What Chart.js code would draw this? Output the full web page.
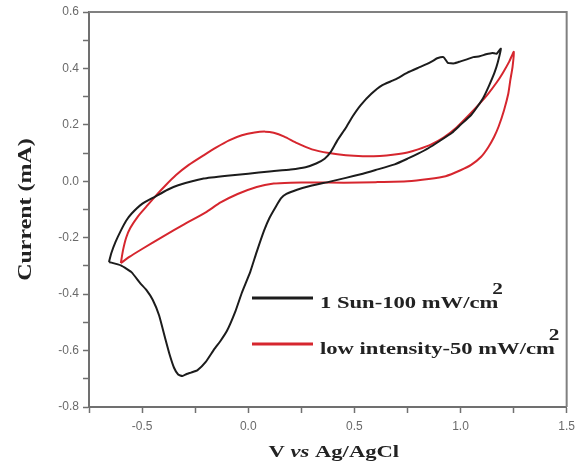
<!DOCTYPE html>
<html><head><meta charset="utf-8">
<script src="https://cdn.jsdelivr.net/npm/chart.js@4.4.0/dist/chart.umd.min.js"></script>
<style>html,body{margin:0;padding:0;background:#fff;}canvas{display:block;}</style>
</head><body>
<canvas id="c" width="581" height="470"></canvas>
<script>
// ---- data (V vs Ag/AgCl, current in mA) ----
const seriesNames = ['1 Sun-100 mW/cm\u00B2', 'low intensity-50 mW/cm\u00B2'];
const seriesColors = ['#1c1c1c', '#d6262e'];

// 1 Sun loop: forward sweep then return sweep
const blackV = [-0.656,-0.645,-0.625,-0.6,-0.575,-0.55,-0.5,-0.44,-0.38,-0.33,
  -0.21,-0.1,0,0.1,0.2,0.27,0.32,0.36,0.39,0.42,
  0.46,0.49,0.53,0.58,0.63,0.69,0.75,0.8,0.84,0.87,
  0.89,0.92,0.94,0.97,1.0,1.03,1.06,1.09,1.12,1.15,
  1.17,1.19,
  1.175,1.16,1.135,1.11,1.08,1.05,1.0,0.96,0.9,0.85,
  0.8,0.75,0.69,0.6,0.54,0.46,0.38,0.3,0.23,0.18,
  0.155,0.13,0.1,0.075,0.04,0.01,-0.03,-0.06,-0.1,-0.13,
  -0.16,-0.2,-0.24,-0.27,-0.29,-0.31,-0.33,-0.35,-0.37,-0.39,
  -0.42,-0.45,-0.48,-0.51,-0.55,-0.6,-0.656];
const blackI = [-0.286,-0.255,-0.215,-0.175,-0.14,-0.115,-0.08,-0.055,-0.03,-0.014,
  0.01,0.02,0.027,0.035,0.042,0.05,0.063,0.08,0.105,0.145,
  0.19,0.228,0.27,0.31,0.34,0.36,0.385,0.402,0.415,0.427,
  0.436,0.44,0.42,0.418,0.425,0.432,0.44,0.443,0.45,0.455,
  0.452,0.47,
  0.42,0.385,0.34,0.3,0.265,0.235,0.2,0.172,0.142,0.118,
  0.098,0.08,0.06,0.04,0.027,0.012,-0.002,-0.015,-0.03,-0.045,
  -0.06,-0.09,-0.13,-0.174,-0.25,-0.32,-0.395,-0.46,-0.53,-0.565,
  -0.595,-0.64,-0.67,-0.678,-0.683,-0.69,-0.685,-0.66,-0.615,-0.56,
  -0.475,-0.42,-0.385,-0.36,-0.322,-0.298,-0.286];

// low intensity loop
const redV = [-0.6,-0.59,-0.575,-0.555,-0.52,-0.48,-0.44,-0.39,-0.34,-0.28,
  -0.21,-0.15,-0.09,-0.03,0.03,0.08,0.12,0.17,0.23,0.3,
  0.38,0.46,0.54,0.62,0.69,0.75,0.8,0.86,0.92,0.98,
  1.04,1.09,1.13,1.17,1.2,1.23,1.251,
  1.245,1.235,1.225,1.205,1.18,1.158,1.13,1.096,1.05,1.0,
  0.93,0.85,0.75,0.6,0.45,0.3,0.2,0.12,0.04,-0.05,
  -0.13,-0.2,-0.3,-0.4,-0.5,-0.56,-0.6];
const redI = [-0.29,-0.245,-0.2,-0.165,-0.125,-0.09,-0.055,-0.015,0.022,0.058,
  0.092,0.12,0.145,0.163,0.173,0.176,0.172,0.158,0.135,0.113,
  0.1,0.092,0.089,0.09,0.095,0.102,0.113,0.13,0.155,0.19,
  0.235,0.275,0.31,0.35,0.385,0.425,0.459,
  0.405,0.36,0.31,0.252,0.195,0.157,0.12,0.086,0.058,0.039,
  0.018,0.008,0.0,-0.003,-0.005,-0.004,-0.005,-0.008,-0.02,-0.045,
  -0.075,-0.11,-0.152,-0.195,-0.24,-0.268,-0.29];

const xTickLabels = ['-0.5','0.0','0.5','1.0','1.5'];
const yTickLabels = ['-0.8','-0.6','-0.4','-0.2','0.0','0.2','0.4','0.6'];
const xTitleParts = [['V ', false], ['vs', true], [' Ag/AgCl', false]];
const yTitle = 'Current (mA)';

// ---- drawing helpers ----
const SX = 1.33;
const SERIF = '"Liberation Serif", "Times New Roman", serif';
function fmt(v){ return (Math.round(v*10)/10).toFixed(1); }

const textPlugin = {
  id: 'textPlugin',
  afterDraw(chart) {
    const ctx = chart.ctx, a = chart.chartArea;
    ctx.save();
    // frame (top & right)
    ctx.strokeStyle = '#808080'; ctx.lineWidth = 2;
    ctx.beginPath();
    ctx.moveTo(a.left, a.top); ctx.lineTo(a.right, a.top); ctx.lineTo(a.right, a.bottom);
    ctx.stroke();

    // y title
    ctx.save();
    ctx.translate(26, (a.top + a.bottom) / 2);
    ctx.rotate(-Math.PI / 2);
    ctx.scale(SX, 1);
    ctx.font = 'bold 18px ' + SERIF;
    ctx.fillStyle = '#222';
    ctx.textAlign = 'center'; ctx.textBaseline = 'middle';
    ctx.fillText(yTitle, 0, 0);
    ctx.restore();

    // x title with italic "vs"
    const fonts = [ 'bold 17px ' + SERIF, 'italic bold 17px ' + SERIF ];
    let total = 0;
    xTitleParts.forEach(p => { ctx.font = fonts[p[1] ? 1 : 0]; total += ctx.measureText(p[0]).width * SX; });
    let x = (a.left + a.right) / 2 + 6 - total / 2;
    const yb = a.bottom + 50;
    xTitleParts.forEach(p => {
      ctx.save();
      ctx.font = fonts[p[1] ? 1 : 0];
      const w = ctx.measureText(p[0]).width * SX;
      ctx.translate(x, yb); ctx.scale(SX, 1);
      ctx.fillStyle = '#222'; ctx.textBaseline = 'alphabetic'; ctx.textAlign = 'left';
      ctx.fillText(p[0], 0, 0);
      ctx.restore();
      x += w;
    });

    // legend
    const lx0 = a.left + 163, lx1 = a.left + 224, tx = a.left + 231;
    const rows = [a.bottom - 109, a.bottom - 63];
    chart.data.datasets.forEach((ds, i) => {
      const y = rows[i];
      ctx.strokeStyle = ds.borderColor; ctx.lineWidth = 3;
      ctx.beginPath(); ctx.moveTo(lx0, y); ctx.lineTo(lx1, y); ctx.stroke();
      let label = ds.label, sup = '';
      if (label.endsWith('\u00B2')) { label = label.slice(0, -1); sup = '2'; }
      ctx.font = 'bold 17px ' + SERIF;
      const w = ctx.measureText(label).width * SX;
      ctx.save();
      ctx.translate(tx, y + 9.5); ctx.scale(SX, 1);
      ctx.fillStyle = '#222'; ctx.textAlign = 'left'; ctx.textBaseline = 'alphabetic';
      ctx.fillText(label, 0, 0);
      ctx.restore();
      if (sup) {
        ctx.save();
        ctx.font = 'bold 16px ' + SERIF;
        ctx.translate(tx + w - 6, y - 4); ctx.scale(SX, 1);
        ctx.fillStyle = '#222'; ctx.textAlign = 'left'; ctx.textBaseline = 'alphabetic';
        ctx.fillText(sup, 0, 0);
        ctx.restore();
      }
    });
    ctx.restore();
  }
};

const tickFont = { family: '"Liberation Sans", Arial, sans-serif', size: 12 };

new Chart(document.getElementById('c'), {
  type: 'scatter',
  data: {
    datasets: [
      { label: seriesNames[0], data: blackV.map((v, i) => ({ x: v, y: blackI[i] })),
        borderColor: seriesColors[0], backgroundColor: seriesColors[0], borderWidth: 2,
        showLine: true, pointRadius: 0, tension: 0.15, fill: false },
      { label: seriesNames[1], data: redV.map((v, i) => ({ x: v, y: redI[i] })),
        borderColor: seriesColors[1], backgroundColor: seriesColors[1], borderWidth: 2,
        showLine: true, pointRadius: 0, tension: 0.15, fill: false }
    ]
  },
  options: {
    responsive: false,
    animation: false,
    events: [],
    layout: { padding: { left: 0, right: 8, top: 12, bottom: 0 } },
    plugins: { legend: { display: false }, tooltip: { enabled: false } },
    scales: {
      x: {
        type: 'linear', min: -0.75, max: 1.5,
        afterFit(s) { s.height = 63; },
        ticks: { stepSize: 0.25, autoSkip: false, maxRotation: 0, padding: 6,
          color: '#6a6a6a', font: tickFont,
          callback: v => { const s = fmt(v); return xTickLabels.includes(s) && Math.abs(v*2 - Math.round(v*2)) < 1e-6 ? s : ''; } },
        grid: { drawOnChartArea: false, drawTicks: true, tickLength: 6, tickColor: '#707070', tickWidth: 1.5 },
        border: { display: true, color: '#707070', width: 2 }
      },
      y: {
        type: 'linear', min: -0.8, max: 0.6,
        afterFit(s) { s.width = 89; },
        ticks: { stepSize: 0.1, autoSkip: false, padding: 4,
          color: '#6a6a6a', font: tickFont,
          callback: v => { const s = fmt(v); return yTickLabels.includes(s) && Math.abs(v*5 - Math.round(v*5)) < 1e-6 ? s : ''; } },
        grid: { drawOnChartArea: false, drawTicks: true, tickLength: 6, tickColor: '#707070', tickWidth: 1.5 },
        border: { display: true, color: '#707070', width: 2 }
      }
    }
  },
  plugins: [textPlugin]
});
</script>
</body></html>
